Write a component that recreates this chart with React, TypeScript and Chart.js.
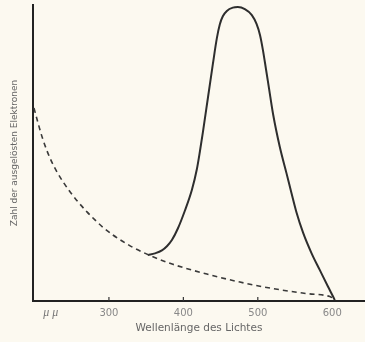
import React, { useEffect, useRef } from "react";
import { Chart, registerables } from "chart.js";

Chart.register(...registerables);

const xTickValues = [300, 400, 500, 600];
const minorTickValues = [300, 400, 500];

const dashedX = [199.3, 204.7, 211.4, 220.8, 230.2, 238.3, 247.7, 258.4, 270.5, 281.2, 292, 305.4, 318.8, 330.9, 355, 385.9, 431.6, 475.9, 520.2, 565.8, 596.7, 602];
const dashedY = [65.2, 60.2, 54.5, 48.3, 43.6, 40.3, 36.9, 33.5, 30.1, 27.4, 24.9, 22.3, 20.1, 18.3, 15.4, 12.4, 9.1, 6.4, 4.2, 2.5, 1.5, 0.8];

const solidX = [352.4, 361.8, 371.2, 377.9, 384.6, 392.6, 402, 411.4, 418.1, 422.2, 426.2, 432.9, 439.6, 445, 449, 453, 458.4, 466.5, 473.2, 482.6, 492, 498.3, 503, 507, 511, 515, 520.6, 529.5, 538.5, 545.2, 552, 560.8, 572.1, 583.2, 594.4, 601.1, 603.4];
const solidY = [15.5, 16.1, 17.1, 18.5, 20.6, 24.5, 30.5, 37.5, 44.5, 50.5, 57.0, 68.5, 80.0, 88.8, 93.5, 96.2, 98.0, 99.1, 99.3, 98.6, 96.6, 93.6, 89.8, 84.6, 78.3, 71.9, 63.0, 52.1, 43.2, 36.5, 29.9, 23.1, 16.2, 10.5, 4.8, 1.5, 0.3];

const unitLabel = "μ μ";
const unitLabelAt = 222;

const toPoints = (xs: number[], ys: number[]) => xs.map((x, i) => ({ x, y: ys[i] }));

export default function App() {
  const ref = useRef<HTMLCanvasElement | null>(null);

  useEffect(() => {
    document.body.style.margin = "0";
    document.body.style.background = "#fcf9f0";
    if (!ref.current) return;

    const extras = {
      id: "extras",
      afterDraw(chart: any) {
        const ctx = chart.ctx;
        const xs = chart.scales.x;
        const bottom = chart.chartArea.bottom;
        ctx.save();
        ctx.strokeStyle = "#333";
        ctx.lineWidth = 1.2;
        minorTickValues.forEach((v) => {
          const px = xs.getPixelForValue(v);
          ctx.beginPath();
          ctx.moveTo(px, bottom);
          ctx.lineTo(px, bottom - 4);
          ctx.stroke();
        });
        ctx.fillStyle = "#777";
        ctx.font = "italic 12px 'Liberation Serif'";
        ctx.textAlign = "center";
        ctx.textBaseline = "middle";
        ctx.fillText(unitLabel, xs.getPixelForValue(unitLabelAt), bottom + 12);
        ctx.restore();
      },
    };

    const chart = new Chart(ref.current, {
      type: "line",
      data: {
        datasets: [
          {
            data: toPoints(dashedX, dashedY),
            borderColor: "#3a3a3a",
            borderWidth: 1.6,
            borderDash: [5, 4],
            pointRadius: 0,
            cubicInterpolationMode: "monotone",
            fill: false,
          },
          {
            data: toPoints(solidX, solidY),
            borderColor: "#2e2e2e",
            borderWidth: 2,
            pointRadius: 0,
            cubicInterpolationMode: "monotone",
            fill: false,
          },
        ],
      },
      options: {
        animation: false,
        responsive: false,
        maintainAspectRatio: false,
        layout: { padding: { top: 5, right: 0, left: 0, bottom: 0 } },
        plugins: { legend: { display: false }, tooltip: { enabled: false } },
        scales: {
          x: {
            type: "linear",
            min: 198,
            max: 644,
            afterBuildTicks: (scale: any) => {
              scale.ticks = xTickValues.map((v) => ({ value: v }));
            },
            afterFit: (scale: any) => {
              scale.height = 41;
            },
            grid: { display: false },
            border: { display: true, color: "#222", width: 2 },
            ticks: {
              color: "#888",
              font: { family: "'DejaVu Sans', sans-serif", size: 10 },
              padding: -2,
              maxRotation: 0,
              autoSkip: false,
            },
            title: {
              display: true,
              text: "Wellenlänge des Lichtes",
              color: "#666",
              font: { family: "'DejaVu Sans', sans-serif", size: 10.5 },
              padding: { top: 4, bottom: 7 },
            },
          },
          y: {
            type: "linear",
            min: 0,
            max: 100,
            afterFit: (scale: any) => {
              scale.width = 33;
            },
            grid: { display: false },
            border: { display: true, color: "#222", width: 2 },
            ticks: { display: false },
            title: {
              display: true,
              text: "Zahl der ausgelösten Elektronen",
              color: "#666",
              font: { family: "'DejaVu Sans', sans-serif", size: 9 },
              padding: { top: 9, bottom: 4 },
            },
          },
        },
      },
      plugins: [extras],
    });

    return () => chart.destroy();
  }, []);

  return (
    <div style={{ width: 365, height: 342, background: "#fcf9f0" }}>
      <canvas ref={ref} width={365} height={342} style={{ display: "block" }} />
    </div>
  );
}
